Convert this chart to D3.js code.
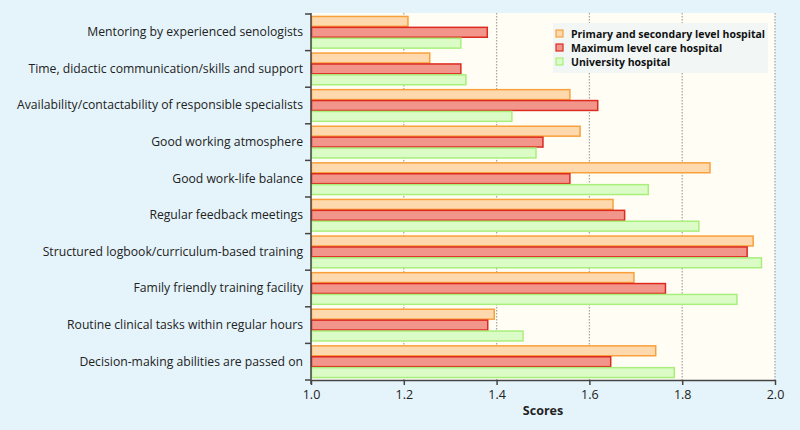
<!DOCTYPE html>
<html><head><meta charset="utf-8">
<script src="https://cdn.jsdelivr.net/npm/d3@7"></script>
<style>
html,body{margin:0;padding:0;background:#e5f4fa;}
svg{display:block;font-family:"Open Sans",sans-serif;}
</style></head>
<body><svg id="c" width="800" height="430"></svg>
<script>
const categories = [
  "Mentoring by experienced senologists",
  "Time, didactic communication/skills and support",
  "Availability/contactability of responsible specialists",
  "Good working atmosphere",
  "Good work-life balance",
  "Regular feedback meetings",
  "Structured logbook/curriculum-based training",
  "Family friendly training facility",
  "Routine clinical tasks within regular hours",
  "Decision-making abilities are passed on"
];
const seriesNames = ["Primary and secondary level hospital","Maximum level care hospital","University hospital"];
const primary    = [1.21, 1.257, 1.559, 1.581, 1.861, 1.652, 1.954, 1.697, 1.396, 1.744];
const maximum    = [1.381, 1.324, 1.619, 1.501, 1.559, 1.677, 1.941, 1.765, 1.382, 1.647];
const university = [1.324, 1.335, 1.434, 1.486, 1.728, 1.837, 1.972, 1.919, 1.458, 1.784];
const xTicks = [1.0, 1.2, 1.4, 1.6, 1.8, 2.0];
const fills   = ["#fdd9ad", "#f2968b", "#dbfcc6"];
const strokes = ["#f9a03c", "#dc2a1f", "#a9ef7c"];

const svg = d3.select("#c");
const L = 311, R = 775, T = 13, B = 380;
const x = d3.scaleLinear().domain([1, 2]).range([L, R]);
const y = d3.scaleBand().domain(categories).range([T + 1, B]);
const y1 = d3.scaleBand().domain(seriesNames).range([0, y.bandwidth()]).paddingOuter(0.18);

svg.append("rect").attr("x", L).attr("y", T).attr("width", R - L).attr("height", B - T).attr("fill", "#fffdf4");

// grid
svg.append("g").selectAll("line").data(xTicks.slice(1)).join("line")
  .attr("x1", d => x(d)).attr("x2", d => x(d)).attr("y1", T).attr("y2", B)
  .attr("stroke", "#a8a8a8").attr("stroke-width", 1.3).attr("stroke-dasharray", "1.5,1.5");

// legend box
const lg = svg.append("g");
lg.append("rect").attr("x", 553).attr("y", 23).attr("width", 215).attr("height", 50).attr("fill", "#f2f7f6");

const data = [primary, maximum, university];
const g = svg.append("g");
categories.forEach((c, i) => {
  seriesNames.forEach((s, j) => {
    const v = data[j][i];
    g.append("rect")
      .attr("x", x(1) + 0.5).attr("y", y(c) + y1(s) + 0.5)
      .attr("width", x(v) - x(1) - 1).attr("height", y1.bandwidth() - 1)
      .attr("fill", fills[j]).attr("stroke", strokes[j]).attr("stroke-width", 1.5);
  });
});

// axes
const xa = svg.append("g").attr("transform", `translate(0,${B})`)
  .call(d3.axisBottom(x).tickValues(xTicks).tickFormat(d3.format(".1f")).tickSize(5).tickSizeOuter(0));
xa.select(".domain").attr("stroke", "#444").attr("stroke-width", 1.5);
xa.selectAll(".tick line").attr("stroke", "#444").attr("stroke-width", 1.5);
xa.selectAll("text").attr("font-size", 12.5).attr("fill", "#222").attr("dy", "0.9em").attr("font-family", "Open Sans, sans-serif");

const ya = svg.append("g").attr("transform", `translate(${L},0)`)
  .call(d3.axisLeft(y).tickSize(0).tickPadding(8));
ya.select(".domain").remove();
ya.selectAll("text").attr("font-size", 12.2).attr("fill", "#222").attr("font-family", "Open Sans, sans-serif");
svg.append("line").attr("x1", L).attr("x2", L).attr("y1", T).attr("y2", B + 4).attr("stroke", "#444").attr("stroke-width", 1.5);
svg.append("g").selectAll("line").data(categories.concat([null])).join("line")
  .attr("x1", L - 6).attr("x2", L)
  .attr("y1", (d, i) => i < categories.length ? y(d) : B).attr("y2", (d, i) => i < categories.length ? y(d) : B)
  .attr("stroke", "#444").attr("stroke-width", 1.5);

svg.append("text").attr("x", (L + R) / 2).attr("y", 415).attr("text-anchor", "middle")
  .attr("font-size", 12.5).attr("font-weight", "bold").attr("fill", "#222").text("Scores");

// legend entries
seriesNames.forEach((s, j) => {
  const yy = 34 + j * 14;
  lg.append("rect").attr("x", 556).attr("y", yy - 4).attr("width", 7).attr("height", 7)
    .attr("fill", fills[j]).attr("stroke", strokes[j]).attr("stroke-width", 1.2);
  lg.append("text").attr("x", 571).attr("y", yy).attr("dy", "0.35em")
    .attr("font-size", 10.5).attr("font-weight", "bold").attr("fill", "#111").text(s);
});
</script></body></html>
